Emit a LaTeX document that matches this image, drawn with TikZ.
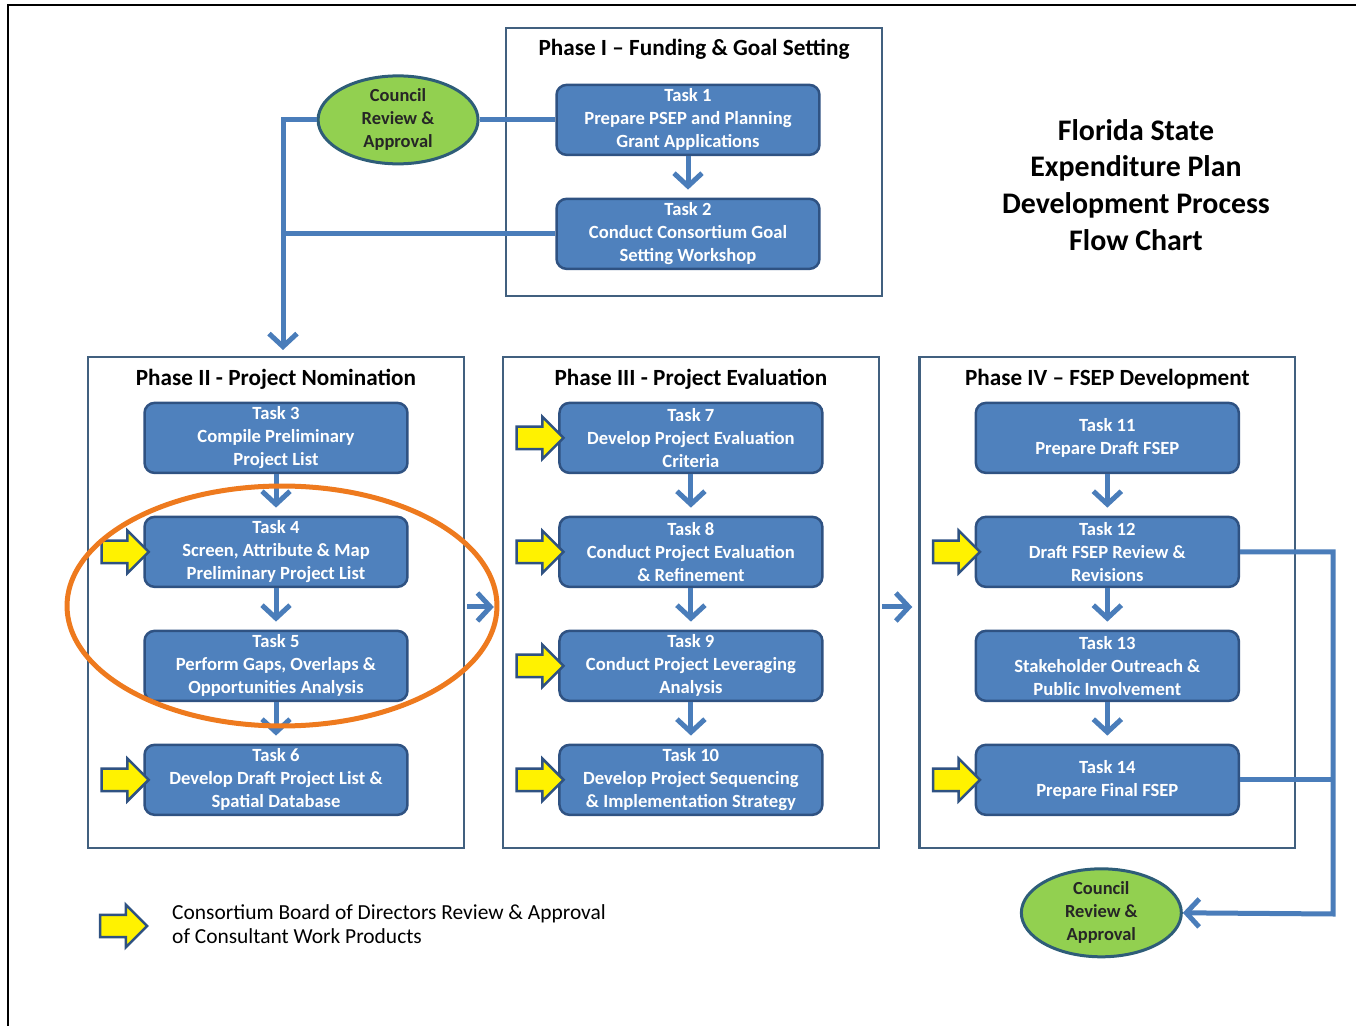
\documentclass[tikz,border=0pt]{standalone}
\usepackage{fontspec}
\setmainfont{Carlito}
\usetikzlibrary{positioning,shapes.geometric,shapes.arrows,arrows.meta}
\definecolor{taskfill}{HTML}{4F81BD}
\definecolor{taskline}{HTML}{2F5282}
\definecolor{phaseline}{HTML}{41607F}
\definecolor{flowblue}{HTML}{4A7DBA}
\definecolor{councilfill}{HTML}{92D050}
\definecolor{councilline}{HTML}{2E5D78}
\definecolor{hilite}{HTML}{EE7A1E}

\begin{document}
\begin{tikzpicture}[x=0.02cm,y=-0.02cm,node distance=2.28cm,on grid,
  task/.style={draw=taskline,fill=taskfill,line width=0.05cm,rounded corners=0.2cm,
    minimum width=5.26cm,minimum height=1.4cm,inner sep=0pt,align=center,
    text=white,font=\bfseries\fontsize{10.6}{13.1}\selectfont},
  phase/.style={draw=phaseline,line width=0.045cm,minimum width=7.52cm,
    minimum height=9.82cm,inner sep=0pt},
  phasetitle/.style={font=\bfseries\fontsize{13.2}{15}\selectfont},
  council/.style={ellipse,draw=councilline,fill=councilfill,line width=0.06cm,
    minimum width=3.2cm,minimum height=1.76cm,inner sep=0pt,align=center,
    text=black!85,font=\bfseries\fontsize{10.5}{13.1}\selectfont},
  review/.style={single arrow,draw=taskline,fill=yellow,line width=0.05cm,
    inner xsep=0pt,inner ysep=0.2cm,minimum height=0.94cm,
    single arrow head extend=0.2cm},
  flow/.style={draw=flowblue,line width=0.1cm},
  flowto/.style={-{Straight Barb[length=0.26cm,width=0.56cm]}}]
  \useasboundingbox (0,0) rectangle (1356,1026);
  \draw[line width=0.04cm] (8,1026) -- (8,5) -- (1356,5);

  % phases
  \node[phase,minimum height=5.36cm] (ph_1) at (694,162) {};
  \node[phase] (ph_2) at (276,602.5) {};
  \node[phase] (ph_3) [right=8.3cm of ph_2] {};
  \node[phase] (ph_4) [right=8.33cm of ph_3] {};
  \node[phasetitle] (pt_1) [below=0.44cm of ph_1.north,anchor=center] {Phase I – Funding \& Goal Setting};
  \node[phasetitle] (pt_2) [below=0.46cm of ph_2.north,anchor=center] {Phase II - Project Nomination};
  \node[phasetitle] (pt_3) [below=0.46cm of ph_3.north,anchor=center] {Phase III - Project Evaluation};
  \node[phasetitle] (pt_4) [below=0.46cm of ph_4.north,anchor=center] {Phase IV – FSEP Development};

  % tasks
  \node[task] (t_1) [below=1.86cm of ph_1.north,anchor=center,xshift=-0.12cm] {Task 1\\Prepare PSEP and Planning\\Grant Applications};
  \node[task] (t_2) [below=of t_1] {Task 2\\Conduct Consortium Goal\\Setting Workshop};
  \node[task] (t_3) [below=1.64cm of ph_2.north,anchor=center] {Task 3\\Compile Preliminary\\Project List};
  \node[task] (t_4) [below=of t_3] {Task 4\\Screen, Attribute \& Map\\Preliminary Project List};
  \node[task] (t_5) [below=of t_4] {Task 5\\Perform Gaps, Overlaps \&\\Opportunities Analysis};
  \node[task] (t_6) [below=of t_5] {Task 6\\Develop Draft Project List \&\\Spatial Database};
  \node[task] (t_7) [below=1.64cm of ph_3.north,anchor=center] {Task 7\\Develop Project Evaluation\\Criteria};
  \node[task] (t_8) [below=of t_7] {Task 8\\Conduct Project Evaluation\\\& Refinement};
  \node[task] (t_9) [below=of t_8] {Task 9\\Conduct Project Leveraging\\Analysis};
  \node[task] (t_10) [below=of t_9] {Task 10\\Develop Project Sequencing\\\& Implementation Strategy};
  \node[task] (t_11) [below=1.64cm of ph_4.north,anchor=center] {Task 11\\Prepare Draft FSEP};
  \node[task] (t_12) [below=of t_11] {Task 12\\Draft FSEP Review \&\\Revisions};
  \node[task] (t_13) [below=of t_12] {Task 13\\Stakeholder Outreach \&\\Public Involvement};
  \node[task] (t_14) [below=of t_13] {Task 14\\Prepare Final FSEP};

  % council reviews
  \node[council] (c_1) [left=5.8cm of t_1] {Council\\Review \&\\Approval};
  \node[council] (c_2) [below=2.66cm of t_14,xshift=-0.12cm] {Council\\Review \&\\Approval};

  \node[font=\bfseries\fontsize{17}{21}\selectfont,align=center] (title) at (1136,185)
    {Florida State\\Expenditure Plan\\Development Process\\Flow Chart};

  % board review arrows
  \foreach \t in {4,6,7,8,9,10,12,14}
    \node[review] (r_\t) [left=3.13cm of t_\t] {};
  \node[review] (r_0) at (118,926) {};
  \node[anchor=west,align=left,font=\fontsize{12.2}{13.7}\selectfont] (legend) at (166,924)
    {Consortium Board of Directors Review \& Approval\\of Consultant Work Products};

  % flow
  \foreach \a/\b in {1/2,3/4,4/5,5/6,7/8,8/9,9/10,11/12,12/13,13/14}
    \draw[flow,flowto,shorten >=0.16cm] (t_\a) -- (t_\b);
  \draw[flow,flowto,shorten <=0.04cm,shorten >=0.16cm] ([yshift=-0.09cm]ph_2.east) -- ([yshift=-0.09cm]ph_3.west);
  \draw[flow,flowto,shorten <=0.04cm,shorten >=0.12cm] ([yshift=-0.09cm]ph_3.east) -- ([yshift=-0.09cm]ph_4.west);

  \coordinate (drop) at (283,350);
  \draw[flow] (c_1) -- (t_1);
  \draw[flow,flowto] (c_1.west) -| (drop);
  \draw[flow] (t_2.west) -- (t_2.west -| drop);

  \coordinate (rail) at (1333,914);
  \draw[flow,flowto] (t_12.east) -| (rail) -- (c_2.east);
  \draw[flow] (t_14.east) -- (t_14.east -| rail);

  \draw[hilite,line width=0.1cm] (282,606) ellipse [x radius=4.3cm,y radius=2.4cm];
\end{tikzpicture}
\end{document}
